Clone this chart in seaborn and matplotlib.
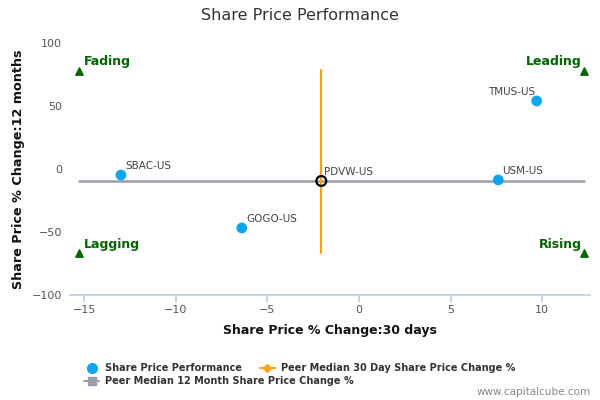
import matplotlib
matplotlib.use('Agg')
import matplotlib.pyplot as plt
import seaborn as sns
import pandas as pd
from matplotlib.lines import Line2D

# peer companies: 30 day change vs 12 month change
tickers = ["SBAC-US", "GOGO-US", "USM-US", "TMUS-US"]
chg_30d = [-13.0, -6.4, 7.6, 9.7]
chg_12m = [-4.8, -46.8, -8.7, 54.0]

# the company being looked at
focus = "PDVW-US"
focus_30d = -2.06
focus_12m = -9.5

# peer medians
median_30d = -2.06
median_12m = -9.5
median_30d_span = [-66.7, 78.6]
median_12m_span = [-15.27, 12.3]

# quadrant markers
quad_names = ["Fading", "Leading", "Lagging", "Rising"]
quad_x = [-15.27, 12.3, -15.27, 12.3]
quad_y = [78.0, 78.0, -67.0, -67.0]

x_ticks = [-15, -10, -5, 0, 5, 10]
y_ticks = [-100, -50, 0, 50, 100]

df = pd.DataFrame({"ticker": tickers, "x": chg_30d, "y": chg_12m})

sns.set_theme(style="white")
plt.rcParams['font.family'] = ['DejaVu Sans']

fig = plt.figure(figsize=(6, 4), dpi=100)
ax = fig.add_axes([0.117, 0.2625, 0.866, 0.63])

grey_line = "#9a9ea8"
orange = "#f7a21b"
blue = "#0ea5ef"
green = "#006400"

ax.plot(median_12m_span, [median_12m, median_12m], color=grey_line, lw=1.8, zorder=2)
ax.plot([median_30d, median_30d], median_30d_span, color=orange, lw=1.5, zorder=2)

sns.scatterplot(data=df, x="x", y="y", ax=ax, color=blue, s=60,
                edgecolor="none", zorder=3, legend=False)
for t, xv, yv in zip(tickers, chg_30d, chg_12m):
    if t == "TMUS-US":
        ax.annotate(t, (xv, yv), xytext=(-1, 3), textcoords="offset points",
                    ha="right", va="bottom", fontsize=7.5, color="#444444")
    else:
        ax.annotate(t, (xv, yv), xytext=(3, 3), textcoords="offset points",
                    ha="left", va="bottom", fontsize=7.5, color="#444444")

ax.scatter([focus_30d], [focus_12m], s=50, facecolor="none", edgecolor="black",
           linewidth=1.6, zorder=4)
ax.annotate(focus, (focus_30d, focus_12m), xytext=(2, 3), textcoords="offset points",
            ha="left", va="bottom", fontsize=7.5, color="#444444", zorder=5)

ax.scatter(quad_x, quad_y, marker="^", s=28, color=green, zorder=3)
for name, qx, qy in zip(quad_names, quad_x, quad_y):
    if qx < 0:
        ax.annotate(name, (qx, qy), xytext=(3, 2), textcoords="offset points",
                    ha="left", va="bottom", fontsize=9, fontweight="bold", color=green)
    else:
        ax.annotate(name, (qx, qy), xytext=(-2, 2), textcoords="offset points",
                    ha="right", va="bottom", fontsize=9, fontweight="bold", color=green)

ax.set_xlim(-15.77, 12.6)
ax.set_ylim(-100, 100)
ax.set_xticks(x_ticks)
ax.set_yticks(y_ticks)
ax.tick_params(axis="x", length=5, color="#c0d0e0", labelsize=8, labelcolor="#555555", pad=2)
ax.tick_params(axis="y", length=0, labelsize=8, labelcolor="#555555", pad=6)
ax.xaxis.set_ticks_position("bottom")
for side in ["top", "right", "left"]:
    ax.spines[side].set_visible(False)
ax.spines["bottom"].set_color("#c0d0e0")
ax.set_xlabel("Share Price % Change:30 days", fontsize=9, fontweight="bold",
              color="#111111", labelpad=7)
ax.set_ylabel("Share Price % Change:12 months", fontsize=9.2, fontweight="bold",
              color="#111111", labelpad=5)

fig.text(0.5, 0.96, "Share Price Performance", ha="center", va="center",
         fontsize=11.5, color="#333333")

h_perf = Line2D([], [], marker="o", color=blue, lw=0, markersize=7)
h_30 = Line2D([], [], marker="D", color=orange, lw=1.5, markersize=4)
h_12 = Line2D([], [], marker="s", color=grey_line, lw=1.5, markersize=6)
fig.legend([h_perf, h_30], ["Share Price Performance", "Peer Median 30 Day Share Price Change %"],
           loc="center left", bbox_to_anchor=(0.125, 0.08), ncol=2, frameon=False,
           prop={"size": 7, "weight": "bold"}, handlelength=1.6, columnspacing=1.8,
           handletextpad=0.6, labelcolor="#333333")
fig.legend([h_12], ["Peer Median 12 Month Share Price Change %"],
           loc="center left", bbox_to_anchor=(0.125, 0.047), frameon=False,
           prop={"size": 7, "weight": "bold"}, handlelength=1.6,
           handletextpad=0.6, labelcolor="#333333")

fig.text(0.985, 0.02, "www.capitalcube.com", ha="right", va="center",
         fontsize=7.5, color="#888888")

fig.savefig("out.png", dpi=100)
plt.close(fig)
